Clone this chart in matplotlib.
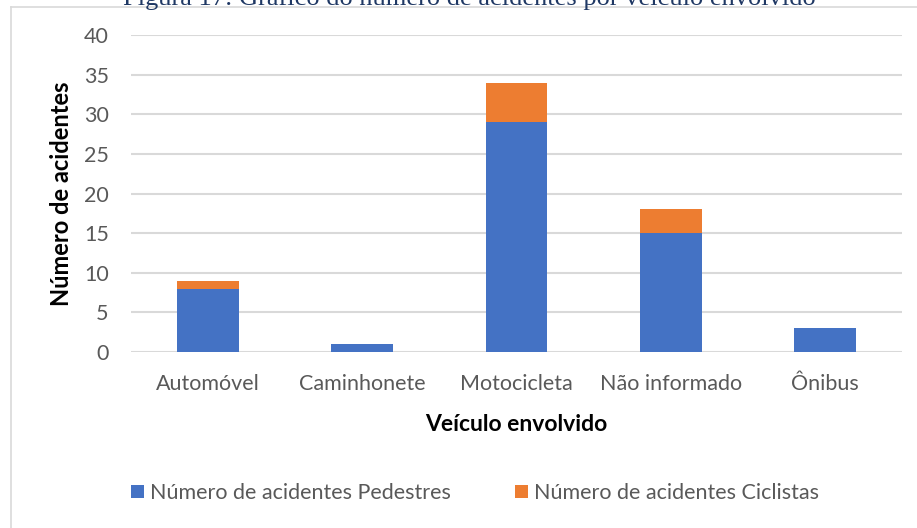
import numpy as np
import matplotlib.pyplot as plt
from matplotlib.lines import Line2D

# Data
categorias = ['Automóvel', 'Caminhonete', 'Motocicleta', 'Não informado', 'Ônibus']
pedestres = [8, 1, 29, 15, 3]
ciclistas = [1, 0, 5, 3, 0]

azul = '#4472C4'
laranja = '#ED7D31'
cinza = '#595959'
grade = '#D9D9D9'

plt.rcParams['font.family'] = ['Lato', 'DejaVu Sans']

W, H = 917, 528
fig = plt.figure(figsize=(W / 100, H / 100), dpi=100)
ax = fig.add_axes([131 / W, 1 - 352 / H, (902 - 131) / W, (352 - 35) / H])

x = np.arange(len(categorias))
ax.bar(x, pedestres, width=0.4, color=azul, label='Número de acidentes Pedestres', zorder=3)
ax.bar(x, ciclistas, width=0.4, bottom=pedestres, color=laranja,
       label='Número de acidentes Ciclistas', zorder=3)

ax.set_xlim(-0.5, len(categorias) - 0.5)
ax.set_ylim(0, 40)
ax.set_yticks(np.arange(0, 41, 5))
ax.set_xticks(x)
ax.set_xticklabels(categorias)
ax.grid(axis='y', color=grade, lw=1.5, zorder=0)
for s in ax.spines.values():
    s.set_visible(False)
ax.tick_params(axis='both', length=0, labelsize=15.5, labelcolor=cinza)
ax.tick_params(axis='y', pad=16)
ax.tick_params(axis='x', pad=16)

ax.set_ylabel('Número de acidentes', fontsize=17, fontweight='bold', labelpad=8)
ax.set_xlabel('Veículo envolvido', fontsize=16.5, fontweight='bold', labelpad=14)

fig.legend(loc='center', bbox_to_anchor=(475 / W, 1 - 493 / H), ncol=2, frameon=False,
           fontsize=15.5, labelcolor=cinza, handlelength=0.6, handleheight=0.6,
           handletextpad=0.25, columnspacing=3.0)

# caption of the figure, cropped at the top edge as in the source image
fig.text(469 / W, 1 - 5 / H, 'Figura 17: Gráfico do número de acidentes por veículo envolvido',
         family='Liberation Serif', fontsize=19, color='#1F3864', ha='center', va='baseline')

# chart frame (partly cropped)
fig.add_artist(Line2D([10.5 / W, 1], [1 - 6.5 / H, 1 - 6.5 / H], color=grade, lw=1.2))
fig.add_artist(Line2D([10.5 / W, 10.5 / W], [0, 1 - 6.5 / H], color=grade, lw=1.2))

fig.savefig('out.png', dpi=100)
